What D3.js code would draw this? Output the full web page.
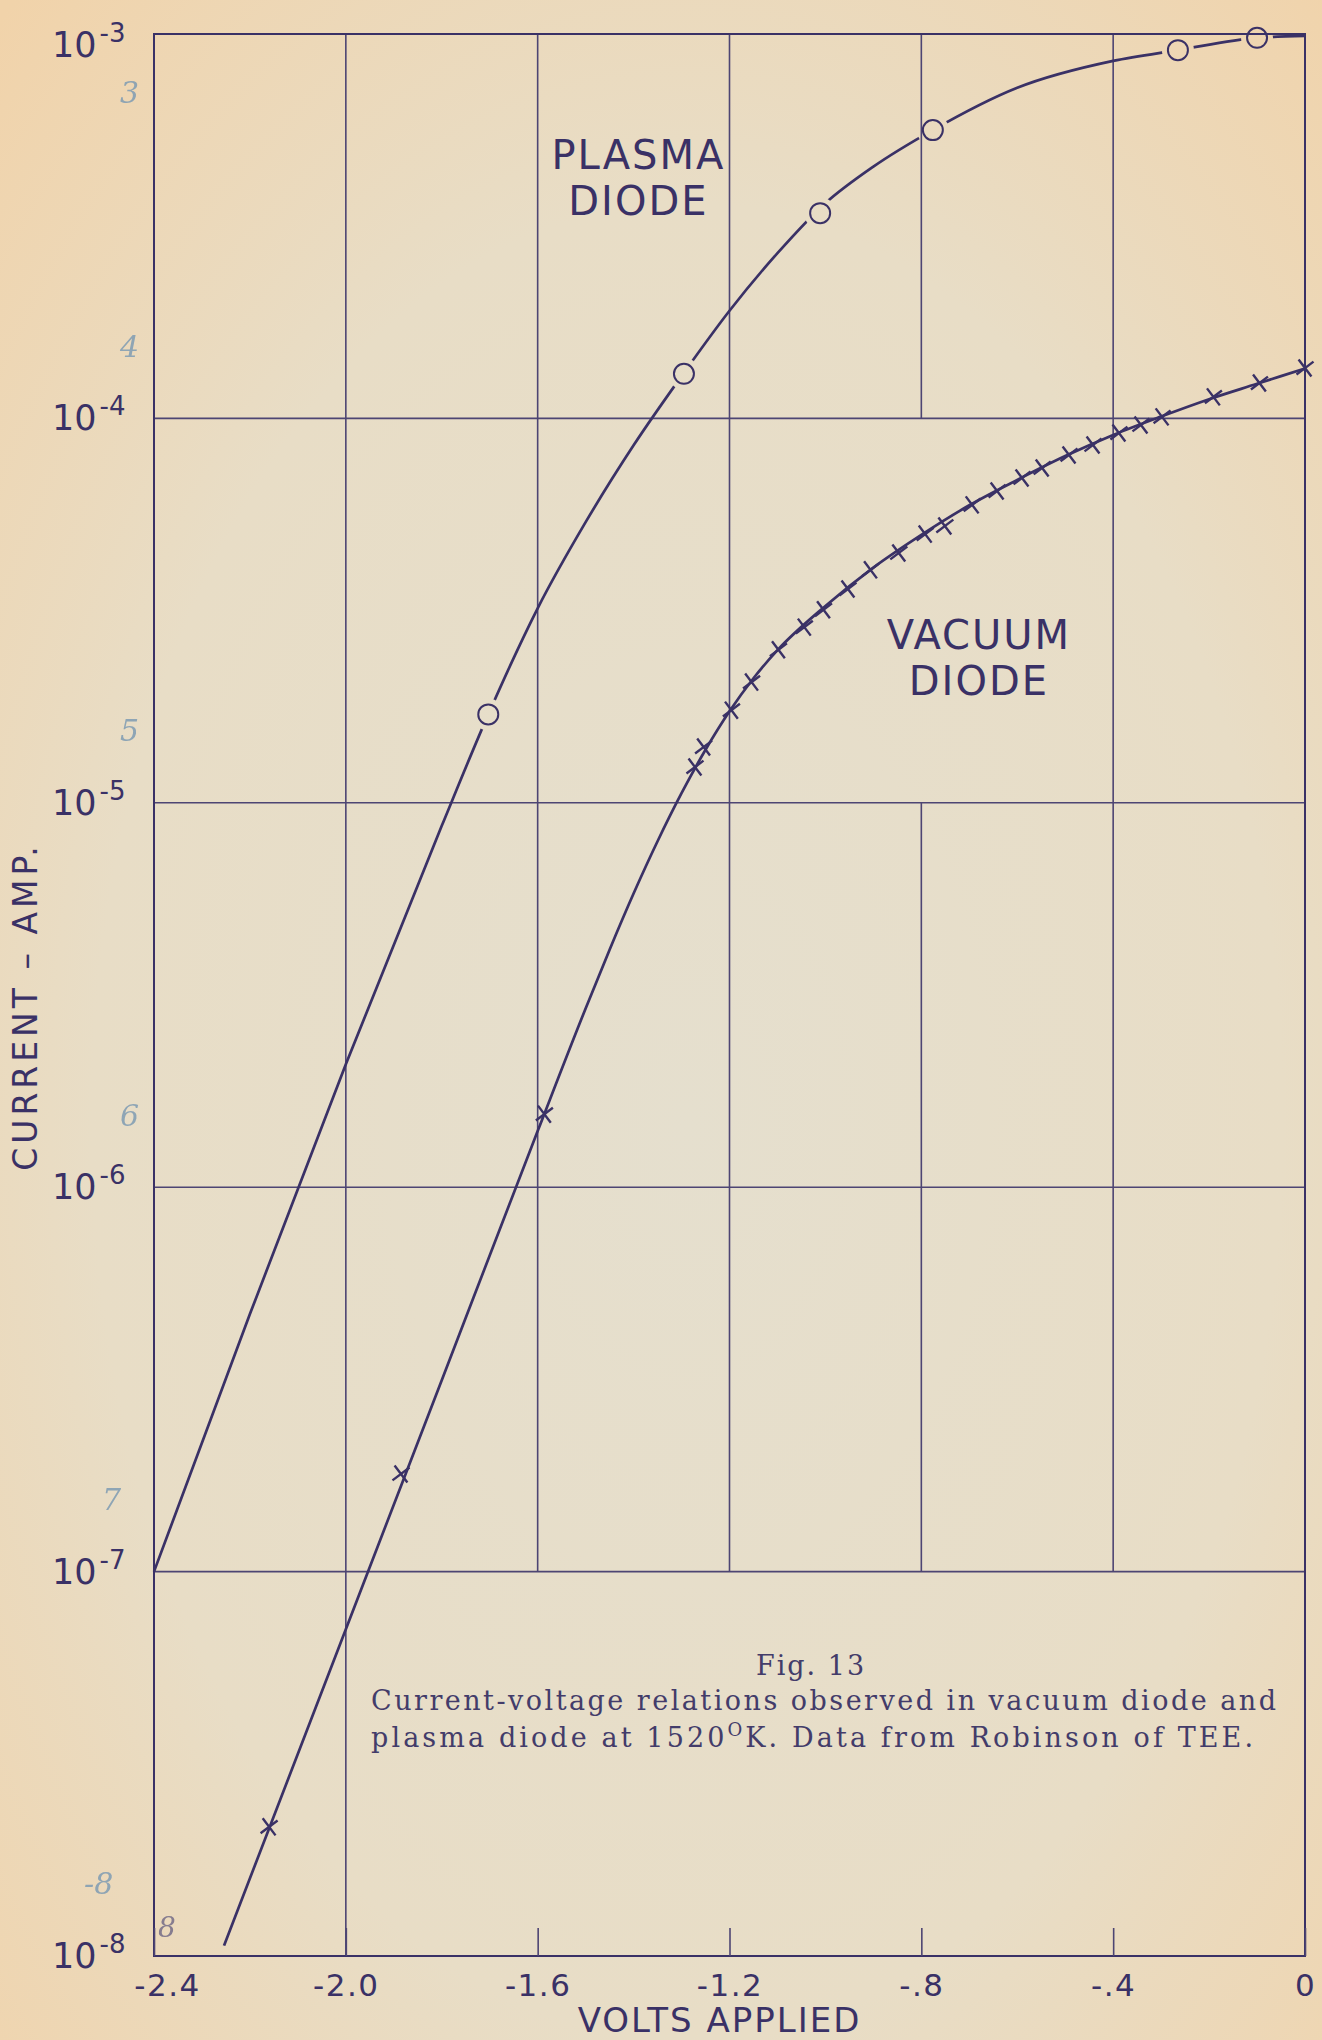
<!DOCTYPE html>
<html>
<head>
<meta charset="utf-8">
<script src="https://cdn.jsdelivr.net/npm/d3@7"></script>
<style>
  html, body { margin: 0; padding: 0; background: #ebdcc2; }
  svg { display: block; }
</style>
</head>
<body>
<div id="chart"></div>
<script>
// ---- data (volts, log10 of current in amps) ----
var xTickValues = [-2.4, -2.0, -1.6, -1.2, -0.8, -0.4, 0];
var xTickLabels = ["-2.4", "-2.0", "-1.6", "-1.2", "-.8", "-.4", "0"];
var yTickExponents = [-3, -4, -5, -6, -7, -8];
var handNotes = ["3", "4", "5", "6", "7", "-8"];

// plasma diode: drawn curve and the circled measurements
var plasmaCurveVolts = [-2.4, -2.2, -2.0, -1.8, -1.703, -1.6, -1.5, -1.4, -1.3, -1.2,
                        -1.1, -1.0, -0.9, -0.776, -0.6, -0.4, -0.265, -0.1, 0];
var plasmaCurveLog   = [-7.0, -6.33, -5.68, -5.06, -4.77, -4.494, -4.27, -4.07, -3.89, -3.72,
                        -3.57, -3.44, -3.345, -3.25, -3.14, -3.07, -3.042, -3.01, -3.005];
var plasmaPointVolts = [-0.100, -0.265, -0.776, -1.011, -1.295, -1.703];
var plasmaPointLog   = [-3.010, -3.042, -3.250, -3.466, -3.884, -4.770];

// vacuum diode: drawn curve and the crossed measurements
var vacuumCurveVolts = [-2.254, -2.0, -1.8, -1.6, -1.5, -1.45, -1.4, -1.35, -1.3, -1.25, -1.2, -1.15,
                        -1.1, -1.0, -0.9, -0.8, -0.7, -0.6, -0.5, -0.4, -0.3, -0.2, -0.1, 0];
var vacuumCurveLog   = [-7.973, -7.15, -6.502, -5.854, -5.535, -5.382, -5.236, -5.1, -4.975, -4.862, -4.762, -4.676,
                        -4.603, -4.488, -4.388, -4.303, -4.226, -4.16, -4.098, -4.043, -3.995, -3.95, -3.91, -3.87];
var vacuumPointVolts = [-2.160, -1.885, -1.586, -1.272, -1.254, -1.196, -1.154, -1.098, -1.044, -1.004,
                        -0.953, -0.906, -0.847, -0.792, -0.751, -0.694, -0.642, -0.590, -0.548, -0.492,
                        -0.442, -0.388, -0.342, -0.298, -0.191, -0.095, 0];
var vacuumPointLog   = [-7.664, -6.746, -5.810, -4.907, -4.855, -4.759, -4.686, -4.602, -4.543, -4.498,
                        -4.444, -4.394, -4.350, -4.301, -4.280, -4.225, -4.189, -4.155, -4.129, -4.095,
                        -4.069, -4.038, -4.017, -3.996, -3.944, -3.908, -3.869];

// vertical rules of the printed grid: they do not all run the full height
var gridVolts = [-2.0, -1.6, -1.2, -0.8, -0.8, -0.4];
var gridFrom  = [-8, -7, -7, -7, -4, -7];
var gridTo    = [-3, -3, -3, -5, -3, -3];

var captionLines = ["Current-voltage relations observed in vacuum diode and",
                    "plasma diode at 1520", "K.  Data from Robinson of TEE."];

// ---- layout ----
var W = 1322, H = 2040;
var margin = {top: 34, right: 17, bottom: 84, left: 154};
var ink = "#3a3166", gridInk = "#4d4573", pencil = "#7f9cb3", typeInk = "#433c6a";

var x = d3.scaleLinear().domain([-2.4, 0]).range([margin.left, W - margin.right]);
var y = d3.scaleLog().domain([1e-8, 1e-3]).range([H - margin.bottom, margin.top]);
var amp = function(e) { return Math.pow(10, e); };

var svg = d3.select("#chart").append("svg")
  .attr("width", W).attr("height", H)
  .attr("viewBox", "0 0 " + W + " " + H);

var defs = svg.append("defs");
var paper = defs.append("radialGradient").attr("id", "paper")
  .attr("cx", "52%").attr("cy", "55%").attr("r", "75%");
paper.append("stop").attr("offset", "0%").attr("stop-color", "#e5dfce");
paper.append("stop").attr("offset", "60%").attr("stop-color", "#e8ddc6");
paper.append("stop").attr("offset", "100%").attr("stop-color", "#f1d3aa");
svg.append("rect").attr("width", W).attr("height", H).attr("fill", "url(#paper)");

// grid: full-width horizontal decade rules
svg.append("g").selectAll("line").data(yTickExponents).join("line")
  .attr("x1", x(-2.4)).attr("x2", x(0))
  .attr("y1", d => y(amp(d))).attr("y2", d => y(amp(d)))
  .attr("stroke", gridInk).attr("stroke-width", 1.6);

// grid: broken vertical rules
svg.append("g").selectAll("line").data(gridVolts).join("line")
  .attr("x1", d => x(d)).attr("x2", d => x(d))
  .attr("y1", (d, i) => y(amp(gridFrom[i]))).attr("y2", (d, i) => y(amp(gridTo[i])))
  .attr("stroke", gridInk).attr("stroke-width", 1.6);

// frame
svg.append("rect")
  .attr("x", x(-2.4)).attr("y", y(1e-3))
  .attr("width", x(0) - x(-2.4)).attr("height", y(1e-8) - y(1e-3))
  .attr("fill", "none").attr("stroke", ink).attr("stroke-width", 2);

// x axis: short ticks rising from the bottom edge
var xAxis = svg.append("g")
  .attr("transform", "translate(0," + y(1e-8) + ")")
  .call(d3.axisBottom(x).tickValues(xTickValues)
    .tickFormat((d, i) => xTickLabels[i])
    .tickSizeInner(-28).tickSizeOuter(0).tickPadding(18));
xAxis.select(".domain").remove();
xAxis.selectAll(".tick line").attr("stroke", gridInk).attr("stroke-width", 1.6);
xAxis.selectAll(".tick text")
  .attr("fill", ink).attr("font-family", "DejaVu Sans, sans-serif")
  .attr("font-size", 31).attr("letter-spacing", 1.5)
  .attr("dx", (d, i) => i === 0 ? 13 : 0);

// y axis labels 10^-n
var yLab = svg.append("g").selectAll("text").data(yTickExponents).join("text")
  .attr("x", 52)
  .attr("y", (d, i) => y(amp(d)) + (i === 0 ? 23 : 12))
  .attr("fill", ink).attr("font-family", "DejaVu Sans, sans-serif").attr("font-size", 35);
yLab.append("tspan").text("10");
yLab.append("tspan").attr("dx", 3).attr("dy", -15).attr("font-size", 26).text(d => "-" + (-d));

// pencilled corrections beside the exponents
svg.append("g").selectAll("text").data(handNotes).join("text")
  .attr("x", (d, i) => i === 5 ? 84 : (i === 4 ? 102 : 120))
  .attr("y", (d, i) => i === 0 ? y(amp(-3.18)) : y(amp(yTickExponents[i] + 0.16)))
  .attr("fill", pencil).attr("font-family", "DejaVu Serif, serif").attr("font-style", "italic")
  .attr("font-size", 30).attr("opacity", 0.85)
  .text(d => d);
svg.append("text").attr("x", x(-2.4) + 4).attr("y", y(amp(-7.95)))
  .attr("fill", "#6d6684").attr("font-family", "DejaVu Serif, serif").attr("font-style", "italic")
  .attr("font-size", 28).attr("opacity", 0.8).text("8");

// axis titles
svg.append("text")
  .attr("x", x(-1.2) - 10).attr("y", H - 8)
  .attr("text-anchor", "middle")
  .attr("fill", ink).attr("font-family", "DejaVu Sans, sans-serif")
  .attr("font-size", 34).attr("letter-spacing", 2)
  .text("VOLTS APPLIED");
svg.append("text")
  .attr("transform", "translate(37," + y(amp(-5.53)) + ") rotate(-90)")
  .attr("text-anchor", "middle")
  .attr("fill", ink).attr("font-family", "DejaVu Sans, sans-serif")
  .attr("font-size", 33).attr("letter-spacing", 4)
  .text("CURRENT – AMP.");

// curves
var line = d3.line()
  .x(d => x(d[0])).y(d => y(amp(d[1])))
  .curve(d3.curveMonotoneX);

var gapMask = defs.append("mask").attr("id", "plasmaGaps")
  .attr("maskUnits", "userSpaceOnUse")
  .attr("x", 0).attr("y", 0).attr("width", W).attr("height", H);
gapMask.append("rect").attr("width", W).attr("height", H).attr("fill", "white");
gapMask.selectAll("circle").data(plasmaPointVolts).join("circle")
  .attr("cx", d => x(d)).attr("cy", (d, i) => y(amp(plasmaPointLog[i])))
  .attr("r", 16).attr("fill", "black");

svg.append("path")
  .datum(plasmaCurveVolts.map((v, i) => [v, plasmaCurveLog[i]]))
  .attr("d", line).attr("fill", "none")
  .attr("stroke", ink).attr("stroke-width", 2.7)
  .attr("mask", "url(#plasmaGaps)");

svg.append("path")
  .datum(vacuumCurveVolts.map((v, i) => [v, vacuumCurveLog[i]]))
  .attr("d", line).attr("fill", "none")
  .attr("stroke", ink).attr("stroke-width", 2.7);

// markers
svg.append("g").selectAll("circle").data(plasmaPointVolts).join("circle")
  .attr("cx", d => x(d)).attr("cy", (d, i) => y(amp(plasmaPointLog[i])))
  .attr("r", 10).attr("fill", "none")
  .attr("stroke", ink).attr("stroke-width", 2);

var cross = d3.symbol().type(d3.symbolTimes || d3.symbolX).size(150);
svg.append("g").selectAll("path").data(vacuumPointVolts).join("path")
  .attr("transform", (d, i) => "translate(" + x(d) + "," + y(amp(vacuumPointLog[i])) + ") rotate(8)")
  .attr("d", cross).attr("fill", "none")
  .attr("stroke", ink).attr("stroke-width", 2.4);

// curve names
function twoLine(cx, cy, a, b) {
  var t = svg.append("text")
    .attr("text-anchor", "middle")
    .attr("fill", ink).attr("font-family", "DejaVu Sans, sans-serif")
    .attr("font-size", 40).attr("letter-spacing", 2);
  t.append("tspan").attr("x", cx).attr("y", cy).text(a);
  t.append("tspan").attr("x", cx).attr("y", cy + 46).text(b);
}
twoLine(x(-1.39), y(amp(-3.35)), "PLASMA", "DIODE");
twoLine(x(-0.68), y(amp(-4.6)), "VACUUM", "DIODE");

// figure caption
var capFont = "DejaVu Serif, serif";
svg.append("text")
  .attr("x", x(-1.03)).attr("y", y(amp(-7.27)))
  .attr("text-anchor", "middle")
  .attr("fill", typeInk).attr("font-family", capFont).attr("font-size", 27)
  .attr("letter-spacing", 2)
  .text("Fig. 13");
svg.append("text")
  .attr("x", 371).attr("y", y(amp(-7.36)))
  .attr("fill", typeInk).attr("font-family", capFont).attr("font-size", 27)
  .attr("textLength", 905).attr("lengthAdjust", "spacing")
  .text(captionLines[0]);
var cap2 = svg.append("text")
  .attr("x", 371).attr("y", y(amp(-7.455)))
  .attr("fill", typeInk).attr("font-family", capFont).attr("font-size", 27)
  .attr("textLength", 882).attr("lengthAdjust", "spacing");
cap2.append("tspan").text(captionLines[1]);
cap2.append("tspan").attr("dy", -11).attr("font-size", 18).text("O");
cap2.append("tspan").attr("dy", 11).text(captionLines[2]);
</script>
</body>
</html>
